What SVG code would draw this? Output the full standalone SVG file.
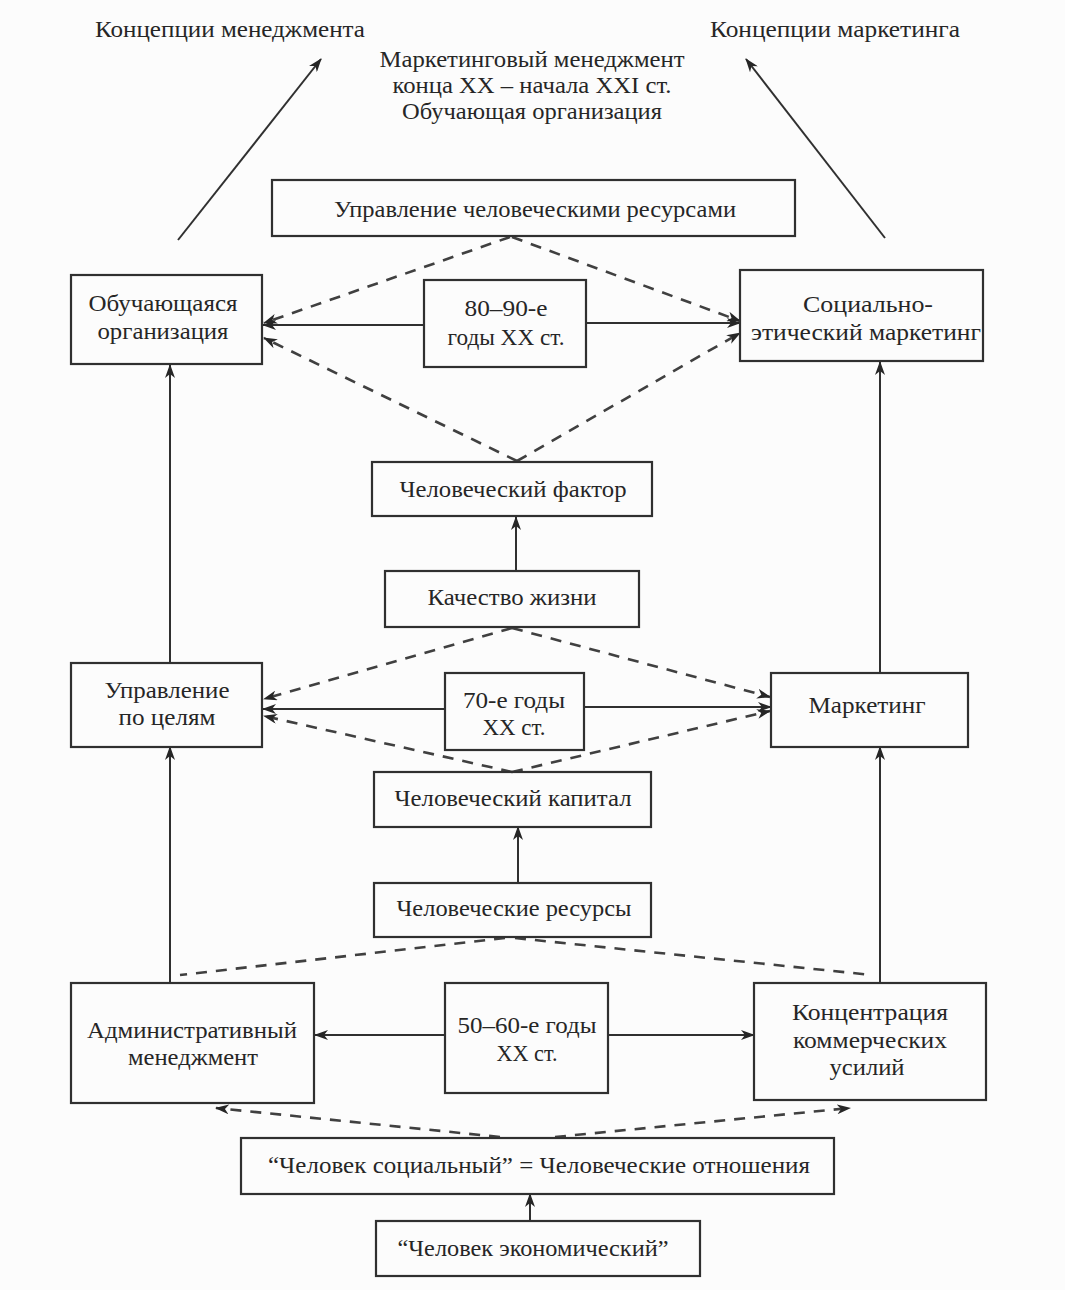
<svg xmlns="http://www.w3.org/2000/svg" width="1065" height="1290" viewBox="0 0 1065 1290">
<style>
.box{fill:none;stroke:#303030;stroke-width:2.2}
.t{font-family:"Liberation Serif","DejaVu Serif",serif;font-size:24px;fill:#262626;text-anchor:middle}
.ln{fill:none;stroke:#303030;stroke-width:2}
.ds{fill:none;stroke:#404040;stroke-width:2.6;stroke-dasharray:11 9}
</style>
<defs>
<marker id="ah" viewBox="0 0 14 10" refX="13" refY="5" markerWidth="14" markerHeight="10" markerUnits="userSpaceOnUse" orient="auto">
<path d="M0,0 L14,5 L0,10 L4,5 Z" fill="#262626"/>
</marker>
</defs>
<rect width="1065" height="1290" fill="#fcfcfc"/>

<g id="titles">
<text class="t" x="230" y="37" textLength="270" lengthAdjust="spacingAndGlyphs">Концепции менеджмента</text>
<text class="t" x="835" y="37" textLength="250" lengthAdjust="spacingAndGlyphs">Концепции маркетинга</text>
<text class="t" x="532" y="67" textLength="305" lengthAdjust="spacingAndGlyphs">Маркетинговый менеджмент</text>
<text class="t" x="532" y="93" textLength="279" lengthAdjust="spacingAndGlyphs">конца XX – начала XXI ст.</text>
<text class="t" x="532" y="119" textLength="260" lengthAdjust="spacingAndGlyphs">Обучающая организация</text>
</g>

<g id="connectors">
<path class="ln" d="M178,240 L321,59" marker-end="url(#ah)"/>
<path class="ln" d="M885,238 L746,59" marker-end="url(#ah)"/>
<path class="ln" d="M170,663 L170,365" marker-end="url(#ah)"/>
<path class="ln" d="M880,673 L880,362" marker-end="url(#ah)"/>
<path class="ln" d="M170,983 L170,747" marker-end="url(#ah)"/>
<path class="ln" d="M880,983 L880,747" marker-end="url(#ah)"/>
<path class="ln" d="M516,571 L516,517" marker-end="url(#ah)"/>
<path class="ln" d="M518,883 L518,827" marker-end="url(#ah)"/>
<path class="ln" d="M530,1221 L530,1194" marker-end="url(#ah)"/>
<path class="ln" d="M424,325 L263,325" marker-end="url(#ah)"/>
<path class="ln" d="M586,323 L740,323" marker-end="url(#ah)"/>
<path class="ln" d="M445,709 L263,709" marker-end="url(#ah)"/>
<path class="ln" d="M584,707 L771,707" marker-end="url(#ah)"/>
<path class="ln" d="M445,1035 L315,1035" marker-end="url(#ah)"/>
<path class="ln" d="M608,1035 L754,1035" marker-end="url(#ah)"/>
<path class="ds" d="M510,237 L264,323" marker-end="url(#ah)"/>
<path class="ds" d="M512,237 L740,321" marker-end="url(#ah)"/>
<path class="ds" d="M517,461 L264,338" marker-end="url(#ah)"/>
<path class="ds" d="M517,461 L740,333" marker-end="url(#ah)"/>
<path class="ds" d="M512,628 L264,699" marker-end="url(#ah)"/>
<path class="ds" d="M512,628 L770,697" marker-end="url(#ah)"/>
<path class="ds" d="M512,772 L264,716" marker-end="url(#ah)"/>
<path class="ds" d="M512,772 L770,711" marker-end="url(#ah)"/>
<path class="ds" d="M505,938 L180,975"/>
<path class="ds" d="M515,938 L872,975"/>
<path class="ds" d="M500,1137 L216,1108" marker-end="url(#ah)"/>
<path class="ds" d="M555,1137 L850,1108" marker-end="url(#ah)"/>
</g>

<g id="n-hr-management">
<rect class="box" x="272" y="180" width="523" height="56"/>
<text class="t" x="535" y="217" textLength="402" lengthAdjust="spacingAndGlyphs">Управление человеческими ресурсами</text>
</g>
<g id="n-learning-org">
<rect class="box" x="71" y="275" width="191" height="89"/>
<text class="t" x="163" y="311" textLength="149" lengthAdjust="spacingAndGlyphs">Обучающаяся</text>
<text class="t" x="163" y="339" textLength="131" lengthAdjust="spacingAndGlyphs">организация</text>
</g>
<g id="n-80-90">
<rect class="box" x="424" y="280" width="162" height="87"/>
<text class="t" x="506" y="316" textLength="83" lengthAdjust="spacingAndGlyphs">80–90-е</text>
<text class="t" x="506" y="345" textLength="117" lengthAdjust="spacingAndGlyphs">годы XX ст.</text>
</g>
<g id="n-social-ethical">
<rect class="box" x="740" y="270" width="243" height="91"/>
<text class="t" x="868" y="312" textLength="130" lengthAdjust="spacingAndGlyphs">Социально-</text>
<text class="t" x="866" y="340" textLength="230" lengthAdjust="spacingAndGlyphs">этический маркетинг</text>
</g>
<g id="n-human-factor">
<rect class="box" x="372" y="462" width="280" height="54"/>
<text class="t" x="513" y="497" textLength="227" lengthAdjust="spacingAndGlyphs">Человеческий фактор</text>
</g>
<g id="n-quality-life">
<rect class="box" x="385" y="571" width="254" height="56"/>
<text class="t" x="512" y="605" textLength="169" lengthAdjust="spacingAndGlyphs">Качество жизни</text>
</g>
<g id="n-mbo">
<rect class="box" x="71" y="663" width="191" height="84"/>
<text class="t" x="167" y="698" textLength="125" lengthAdjust="spacingAndGlyphs">Управление</text>
<text class="t" x="167" y="725" textLength="97" lengthAdjust="spacingAndGlyphs">по целям</text>
</g>
<g id="n-70s">
<rect class="box" x="445" y="673" width="139" height="77"/>
<text class="t" x="514" y="708" textLength="102" lengthAdjust="spacingAndGlyphs">70-е годы</text>
<text class="t" x="514" y="735" textLength="63" lengthAdjust="spacingAndGlyphs">XX ст.</text>
</g>
<g id="n-marketing">
<rect class="box" x="771" y="673" width="197" height="74"/>
<text class="t" x="867" y="713" textLength="117" lengthAdjust="spacingAndGlyphs">Маркетинг</text>
</g>
<g id="n-human-capital">
<rect class="box" x="374" y="772" width="277" height="55"/>
<text class="t" x="513" y="806" textLength="237" lengthAdjust="spacingAndGlyphs">Человеческий капитал</text>
</g>
<g id="n-human-resources">
<rect class="box" x="374" y="883" width="277" height="54"/>
<text class="t" x="514" y="916" textLength="235" lengthAdjust="spacingAndGlyphs">Человеческие ресурсы</text>
</g>
<g id="n-admin">
<rect class="box" x="71" y="983" width="243" height="120"/>
<text class="t" x="192" y="1038" textLength="210" lengthAdjust="spacingAndGlyphs">Административный</text>
<text class="t" x="193" y="1065" textLength="130" lengthAdjust="spacingAndGlyphs">менеджмент</text>
</g>
<g id="n-50-60">
<rect class="box" x="445" y="983" width="163" height="110"/>
<text class="t" x="527" y="1033" textLength="139" lengthAdjust="spacingAndGlyphs">50–60-е годы</text>
<text class="t" x="527" y="1061" textLength="61" lengthAdjust="spacingAndGlyphs">XX ст.</text>
</g>
<g id="n-concentration">
<rect class="box" x="754" y="983" width="232" height="117"/>
<text class="t" x="870" y="1020" textLength="156" lengthAdjust="spacingAndGlyphs">Концентрация</text>
<text class="t" x="870" y="1048" textLength="154" lengthAdjust="spacingAndGlyphs">коммерческих</text>
<text class="t" x="867" y="1075" textLength="75" lengthAdjust="spacingAndGlyphs">усилий</text>
</g>
<g id="n-social-man">
<rect class="box" x="241" y="1138" width="593" height="56"/>
<text class="t" x="539" y="1173" textLength="542" lengthAdjust="spacingAndGlyphs">“Человек социальный” = Человеческие отношения</text>
</g>
<g id="n-economic-man">
<rect class="box" x="376" y="1221" width="324" height="55"/>
<text class="t" x="533" y="1256" textLength="271" lengthAdjust="spacingAndGlyphs">“Человек экономический”</text>
</g>
</svg>
